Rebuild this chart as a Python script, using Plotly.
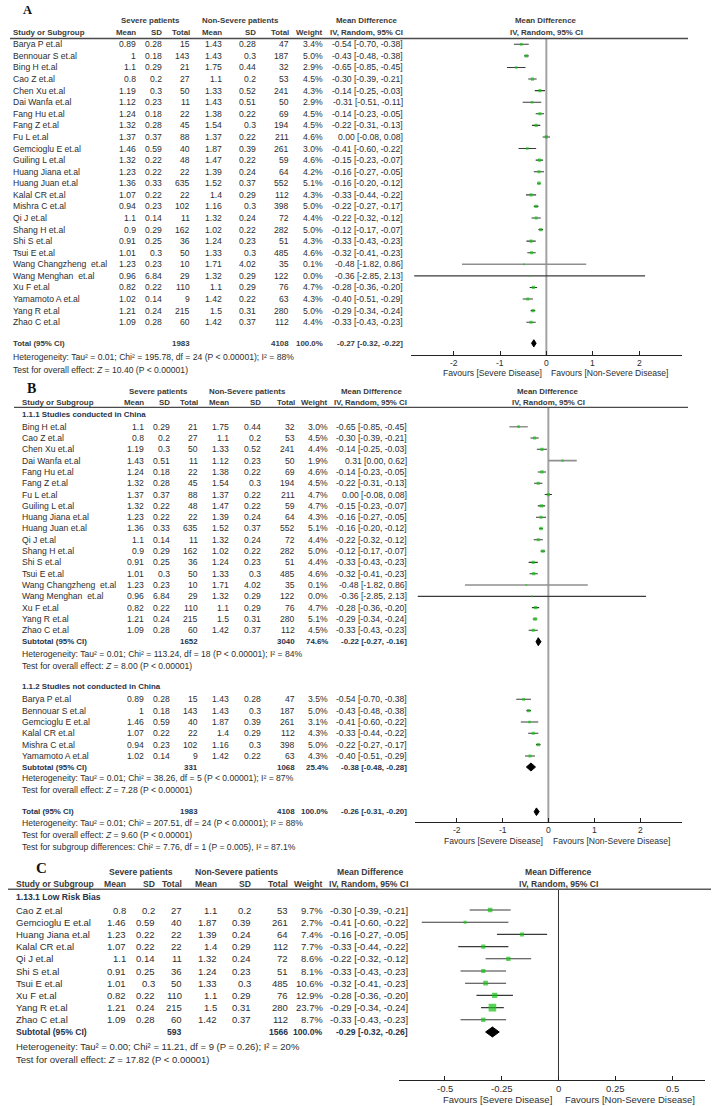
import plotly.graph_objects as go

W, H = 713, 1106

# ---------------- Panel A data ----------------
studies_A = ["Barya P et.al", "Bennouar S et.al", "Bing H et.al", "Cao Z et.al", "Chen Xu et.al",
             "Dai Wanfa et.al", "Fang Hu et.al", "Fang Z et.al", "Fu L et.al", "Gemcioglu E et.al",
             "Guiling L et.al", "Huang Jiana et.al", "Huang Juan et.al", "Kalal CR et.al", "Mishra C et.al",
             "Qi J et.al", "Shang H et.al", "Shi S et.al", "Tsui E et.al", "Wang Changzheng  et.al",
             "Wang Menghan  et.al", "Xu F et.al", "Yamamoto A et.al", "Yang R et.al", "Zhao C et.al"]
sev_mean_A = [0.89, 1, 1.1, 0.8, 1.19, 1.12, 1.24, 1.32, 1.37, 1.46, 1.32, 1.23, 1.36, 1.07, 0.94,
              1.1, 0.9, 0.91, 1.01, 1.23, 0.96, 0.82, 1.02, 1.21, 1.09]
sev_sd_A = [0.28, 0.18, 0.29, 0.2, 0.3, 0.23, 0.18, 0.28, 0.37, 0.59, 0.22, 0.22, 0.33, 0.22, 0.23,
            0.14, 0.29, 0.25, 0.3, 0.23, 6.84, 0.22, 0.14, 0.24, 0.28]
sev_n_A = [15, 143, 21, 27, 50, 11, 22, 45, 88, 40, 48, 22, 635, 22, 102, 11, 162, 36, 50, 10, 29, 110, 9, 215, 60]
non_mean_A = [1.43, 1.43, 1.75, 1.1, 1.33, 1.43, 1.38, 1.54, 1.37, 1.87, 1.47, 1.39, 1.52, 1.4, 1.16,
              1.32, 1.02, 1.24, 1.33, 1.71, 1.32, 1.1, 1.42, 1.5, 1.42]
non_sd_A = [0.28, 0.3, 0.44, 0.2, 0.52, 0.51, 0.22, 0.3, 0.22, 0.39, 0.22, 0.24, 0.37, 0.29, 0.3,
            0.24, 0.22, 0.23, 0.3, 4.02, 0.29, 0.29, 0.22, 0.31, 0.37]
non_n_A = [47, 187, 32, 53, 241, 50, 69, 194, 211, 261, 59, 64, 552, 112, 398, 72, 282, 51, 485, 35, 122, 76, 63, 280, 112]
weight_A = [3.4, 5.0, 2.9, 4.5, 4.3, 2.9, 4.5, 4.5, 4.6, 3.0, 4.6, 4.2, 5.1, 4.3, 5.0, 4.4, 5.0, 4.3, 4.6,
            0.1, 0.0, 4.7, 4.3, 5.0, 4.4]
md_A = [-0.54, -0.43, -0.65, -0.30, -0.14, -0.31, -0.14, -0.22, 0.00, -0.41, -0.15, -0.16, -0.16, -0.33, -0.22,
        -0.22, -0.12, -0.33, -0.32, -0.48, -0.36, -0.28, -0.40, -0.29, -0.33]
lo_A = [-0.70, -0.48, -0.85, -0.39, -0.25, -0.51, -0.23, -0.31, -0.08, -0.60, -0.23, -0.27, -0.20, -0.44, -0.27,
        -0.32, -0.17, -0.43, -0.41, -1.82, -2.85, -0.36, -0.51, -0.34, -0.43]
hi_A = [-0.38, -0.38, -0.45, -0.21, -0.03, -0.11, -0.05, -0.13, 0.08, -0.22, -0.07, -0.05, -0.12, -0.22, -0.17,
        -0.12, -0.07, -0.23, -0.23, 0.86, 2.13, -0.20, -0.29, -0.24, -0.23]
total_A = dict(sev_n=1983, non_n=4108, weight=100.0, md=-0.27, lo=-0.32, hi=-0.22)
het_A = "Heterogeneity: Tau² = 0.01; Chi² = 195.78, df = 24 (P < 0.00001); I² = 88%"
test_A = "Test for overall effect: <i>Z</i> = 10.40 (P < 0.00001)"

# ---------------- Panel B data: 1.1.1 China ----------------
studies_B1 = ["Bing H et.al", "Cao Z et.al", "Chen Xu et.al", "Dai Wanfa et.al", "Fang Hu et.al", "Fang Z et.al",
              "Fu L et.al", "Guiling L et.al", "Huang Jiana et.al", "Huang Juan et.al", "Qi J et.al", "Shang H et.al",
              "Shi S et.al", "Tsui E et.al", "Wang Changzheng  et.al", "Wang Menghan  et.al", "Xu F et.al",
              "Yang R et.al", "Zhao C et.al"]
sev_mean_B1 = [1.1, 0.8, 1.19, 1.43, 1.24, 1.32, 1.37, 1.32, 1.23, 1.36, 1.1, 0.9, 0.91, 1.01, 1.23, 0.96, 0.82, 1.21, 1.09]
sev_sd_B1 = [0.29, 0.2, 0.3, 0.51, 0.18, 0.28, 0.37, 0.22, 0.22, 0.33, 0.14, 0.29, 0.25, 0.3, 0.23, 6.84, 0.22, 0.24, 0.28]
sev_n_B1 = [21, 27, 50, 11, 22, 45, 88, 48, 22, 635, 11, 162, 36, 50, 10, 29, 110, 215, 60]
non_mean_B1 = [1.75, 1.1, 1.33, 1.12, 1.38, 1.54, 1.37, 1.47, 1.39, 1.52, 1.32, 1.02, 1.24, 1.33, 1.71, 1.32, 1.1, 1.5, 1.42]
non_sd_B1 = [0.44, 0.2, 0.52, 0.23, 0.22, 0.3, 0.22, 0.22, 0.24, 0.37, 0.24, 0.22, 0.23, 0.3, 4.02, 0.29, 0.29, 0.31, 0.37]
non_n_B1 = [32, 53, 241, 50, 69, 194, 211, 59, 64, 552, 72, 282, 51, 485, 35, 122, 76, 280, 112]
weight_B1 = [3.0, 4.5, 4.4, 1.9, 4.6, 4.5, 4.7, 4.7, 4.3, 5.1, 4.4, 5.0, 4.4, 4.6, 0.1, 0.0, 4.7, 5.1, 4.5]
md_B1 = [-0.65, -0.30, -0.14, 0.31, -0.14, -0.22, 0.00, -0.15, -0.16, -0.16, -0.22, -0.12, -0.33, -0.32, -0.48, -0.36, -0.28, -0.29, -0.33]
lo_B1 = [-0.85, -0.39, -0.25, 0.00, -0.23, -0.31, -0.08, -0.23, -0.27, -0.20, -0.32, -0.17, -0.43, -0.41, -1.82, -2.85, -0.36, -0.34, -0.43]
hi_B1 = [-0.45, -0.21, -0.03, 0.62, -0.05, -0.13, 0.08, -0.07, -0.05, -0.12, -0.12, -0.07, -0.23, -0.23, 0.86, 2.13, -0.20, -0.24, -0.23]
sub_B1 = dict(sev_n=1652, non_n=3040, weight=74.6, md=-0.22, lo=-0.27, hi=-0.16)
het_B1 = "Heterogeneity: Tau² = 0.01; Chi² = 113.24, df = 18 (P < 0.00001); I² = 84%"
test_B1 = "Test for overall effect: <i>Z</i> = 8.00 (P < 0.00001)"

# ---------------- Panel B data: 1.1.2 not China ----------------
studies_B2 = ["Barya P et.al", "Bennouar S et.al", "Gemcioglu E et.al", "Kalal CR et.al", "Mishra C et.al", "Yamamoto A et.al"]
sev_mean_B2 = [0.89, 1, 1.46, 1.07, 0.94, 1.02]
sev_sd_B2 = [0.28, 0.18, 0.59, 0.22, 0.23, 0.14]
sev_n_B2 = [15, 143, 40, 22, 102, 9]
non_mean_B2 = [1.43, 1.43, 1.87, 1.4, 1.16, 1.42]
non_sd_B2 = [0.28, 0.3, 0.39, 0.29, 0.3, 0.22]
non_n_B2 = [47, 187, 261, 112, 398, 63]
weight_B2 = [3.5, 5.0, 3.1, 4.3, 5.0, 4.3]
md_B2 = [-0.54, -0.43, -0.41, -0.33, -0.22, -0.40]
lo_B2 = [-0.70, -0.48, -0.60, -0.44, -0.27, -0.51]
hi_B2 = [-0.38, -0.38, -0.22, -0.22, -0.17, -0.29]
sub_B2 = dict(sev_n=331, non_n=1068, weight=25.4, md=-0.38, lo=-0.48, hi=-0.28)
het_B2 = "Heterogeneity: Tau² = 0.01; Chi² = 38.26, df = 5 (P < 0.00001); I² = 87%"
test_B2 = "Test for overall effect: <i>Z</i> = 7.28 (P < 0.00001)"
total_B = dict(sev_n=1983, non_n=4108, weight=100.0, md=-0.26, lo=-0.31, hi=-0.20)
het_B = "Heterogeneity: Tau² = 0.01; Chi² = 207.51, df = 24 (P < 0.00001); I² = 88%"
test_B = "Test for overall effect: <i>Z</i> = 9.60 (P < 0.00001)"
sub_test_B = "Test for subgroup differences: Chi² = 7.76, df = 1 (P = 0.005), I² = 87.1%"

# ---------------- Panel C data: 1.13.1 Low Risk Bias ----------------
studies_C = ["Cao Z et.al", "Gemcioglu E et.al", "Huang Jiana et.al", "Kalal CR et.al", "Qi J et.al",
             "Shi S et.al", "Tsui E et.al", "Xu F et.al", "Yang R et.al", "Zhao C et.al"]
sev_mean_C = [0.8, 1.46, 1.23, 1.07, 1.1, 0.91, 1.01, 0.82, 1.21, 1.09]
sev_sd_C = [0.2, 0.59, 0.22, 0.22, 0.14, 0.25, 0.3, 0.22, 0.24, 0.28]
sev_n_C = [27, 40, 22, 22, 11, 36, 50, 110, 215, 60]
non_mean_C = [1.1, 1.87, 1.39, 1.4, 1.32, 1.24, 1.33, 1.1, 1.5, 1.42]
non_sd_C = [0.2, 0.39, 0.24, 0.29, 0.24, 0.23, 0.3, 0.29, 0.31, 0.37]
non_n_C = [53, 261, 64, 112, 72, 51, 485, 76, 280, 112]
weight_C = [9.7, 2.7, 7.4, 7.7, 8.6, 8.1, 10.6, 12.9, 23.7, 8.7]
md_C = [-0.30, -0.41, -0.16, -0.33, -0.22, -0.33, -0.32, -0.28, -0.29, -0.33]
lo_C = [-0.39, -0.60, -0.27, -0.44, -0.32, -0.43, -0.41, -0.36, -0.34, -0.43]
hi_C = [-0.21, -0.22, -0.05, -0.22, -0.12, -0.23, -0.23, -0.20, -0.24, -0.23]
sub_C = dict(sev_n=593, non_n=1566, weight=100.0, md=-0.29, lo=-0.32, hi=-0.26)
het_C = "Heterogeneity: Tau² = 0.00; Chi² = 11.21, df = 9 (P = 0.26); I² = 20%"
test_C = "Test for overall effect: <i>Z</i> = 17.82 (P < 0.00001)"

ticks_AB = [-2, -1, 0, 1, 2]
ticks_C = [-0.5, -0.25, 0, 0.25, 0.5]

# ---------------- helpers ----------------
FONT = "Liberation Sans"
TXT = "#2e2e2e"
HDR = "#3a3a3a"
NAVY = "#27324a"
GREEN = "#14c314"

annotations = []
shapes = []
fig = go.Figure()


def px(x):
    return x / W


def py(y):
    return 1 - y / H


def T(x, y, s, anchor="left", size=8.6, bold=False, color=TXT, family=FONT):
    annotations.append(dict(x=px(x), y=py(y), xref="paper", yref="paper",
                            text=f"<b>{s}</b>" if bold else s, showarrow=False,
                            xanchor=anchor, yanchor="middle", borderpad=0,
                            font=dict(size=size, color=color, family=family)))


def g(v):
    return f"{v:g}"


def mdtxt(m, l, h):
    return f"{m:.2f} [{l:.2f}, {h:.2f}]"


def hline(x0, x1, y, color="#4a4a4a", width=1.3):
    shapes.append(dict(type="line", xref="paper", yref="paper", x0=px(x0), x1=px(x1),
                       y0=py(y), y1=py(y), line=dict(color=color, width=width)))


def header(cfg, y1, y2, size):
    c = cfg["cols"]
    T(cfg["sev_c"], y1, "Severe patients", "center", size, True, HDR)
    T(cfg["non_c"], y1, "Non-Severe patients", "center", size, True, HDR)
    T(cfg["mdh_c"], y1, "Mean Difference", "center", size, True, HDR)
    T(cfg["plot_c"], y1, "Mean Difference", "center", size, True, HDR)
    T(cfg["name_x"], y2, "Study or Subgroup", "left", size, True, HDR)
    for x, s in zip(c, ["Mean", "SD", "Total", "Mean", "SD", "Total", "Weight", "IV, Random, 95% CI"]):
        T(x, y2, s, "right", size, True, HDR)
    T(cfg["plot_c"], y2, "IV, Random, 95% CI", "center", size, True, HDR)


def rows(cfg, ys, names, a, b, c_, d, e, f, w, m, l, h, size):
    c = cfg["cols"]
    for i, y in enumerate(ys):
        T(cfg["name_x"], y, names[i], "left", size)
        vals = [g(a[i]), g(b[i]), str(c_[i]), g(d[i]), g(e[i]), str(f[i]), f"{w[i]:.1f}%", mdtxt(m[i], l[i], h[i])]
        for x, s in zip(c, vals):
            T(x, y, s, "right", size)


def total_row(cfg, y, label, tot, size, color):
    c = cfg["cols"]
    T(cfg["name_x"], y, label, "left", size, True, color)
    T(c[2], y, str(tot["sev_n"]), "right", size, True, color)
    T(c[5], y, str(tot["non_n"]), "right", size, True, color)
    T(c[6], y, f"{tot['weight']:.1f}%", "right", size, True, color)
    T(c[7], y, mdtxt(tot["md"], tot["lo"], tot["hi"]), "right", size, True, color)


def forest(xa, ya, ys, m, l, h, w, light, k, b):
    xs, yl, xg, yg = [], [], [], []
    for i, y in enumerate(ys):
        if i in light:
            xg += [l[i], h[i], None]
            yg += [y, y, None]
        else:
            xs += [l[i], h[i], None]
            yl += [y, y, None]
    fig.add_trace(go.Scatter(x=xs, y=yl, mode="lines", line=dict(color="#3a3a3a", width=1.1),
                             xaxis=xa, yaxis=ya, hoverinfo="skip", showlegend=False))
    if xg:
        fig.add_trace(go.Scatter(x=xg, y=yg, mode="lines", line=dict(color="#8f8f8f", width=1.6),
                                 xaxis=xa, yaxis=ya, hoverinfo="skip", showlegend=False))
    fig.add_trace(go.Scatter(x=m, y=ys, mode="markers",
                             marker=dict(symbol="square", size=[b + k * v for v in w], color=GREEN, line=dict(width=0)),
                             xaxis=xa, yaxis=ya, hoverinfo="skip", showlegend=False))


def diamond(xa, ya, y, tot, hh):
    fig.add_trace(go.Scatter(x=[tot["lo"], tot["md"], tot["hi"], tot["md"], tot["lo"]],
                             y=[y, y - hh, y, y + hh, y], mode="lines", fill="toself",
                             fillcolor="black", line=dict(color="black", width=1),
                             xaxis=xa, yaxis=ya, hoverinfo="skip", showlegend=False))


def tick_labels(xref, ticks, y, size):
    for t in ticks:
        annotations.append(dict(x=t, y=py(y), xref=xref, yref="paper", text=g(t), showarrow=False,
                                xanchor="center", yanchor="middle", borderpad=0,
                                font=dict(size=size, color=TXT, family=FONT)))


# ---------------- Panel A layout ----------------
cfgA = dict(name_x=12, cols=[136.5, 163.3, 191, 222.7, 256.7, 290, 324, 404],
            sev_c=150.7, non_c=240.5, mdh_c=367, plot_c=546)
SA = 8.6
HA = 7.9
T(27.7, 10, "A", "center", 12.5, True, "#111", "Liberation Serif")
header(cfgA, 21, 32.3, HA)
hline(10, 688, 38.5)
ysA = [44.3 + i * 11.58 for i in range(len(studies_A))]
rows(cfgA, ysA, studies_A, sev_mean_A, sev_sd_A, sev_n_A, non_mean_A, non_sd_A, non_n_A,
     weight_A, md_A, lo_A, hi_A, SA)
yTotA = 343.3
total_row(cfgA, yTotA, "Total (95% CI)", total_A, HA, HDR)
T(12, 356.7, het_A, "left", SA)
T(12, 370, test_A, "left", SA)
forest("x", "y", ysA, md_A, lo_A, hi_A, weight_A, [19], 0.35, 1.6)
diamond("x", "y", yTotA, total_A, 3.6)
tick_labels("x", ticks_AB, 362.5, SA)
T(542.5, 372.7, "Favours [Severe Disease]", "right", SA)
T(549.5, 372.7, "Favours [Non-Severe Disease]", "left", SA)
shapes.append(dict(type="line", xref="x", yref="y", x0=0, x1=0, y0=38.5, y1=355,
                   line=dict(color="#a3a3a3", width=2), layer="below"))

# ---------------- Panel B layout ----------------
cfgB = dict(name_x=21.3, cols=[144.7, 171, 199, 230, 261.7, 296, 329.3, 408],
            sev_c=158.5, non_c=247, mdh_c=372, plot_c=548)
SB = 8.6
HB = 7.9
T(31.5, 389, "B", "center", 14, True, "#111", "Liberation Serif")
header(cfgB, 391, 402.3, HB)
hline(14, 688, 407.3)
T(21.3, 414, "1.1.1 Studies conducted in China", "left", HB, True, NAVY)
ysB1 = [426.7 + i * 11.31 for i in range(len(studies_B1))]
rows(cfgB, ysB1, studies_B1, sev_mean_B1, sev_sd_B1, sev_n_B1, non_mean_B1, non_sd_B1, non_n_B1,
     weight_B1, md_B1, lo_B1, hi_B1, SB)
ySubB1 = 641.7
total_row(cfgB, ySubB1, "Subtotal (95% CI)", sub_B1, HB, NAVY)
T(21.3, 654, het_B1, "left", SB)
T(21.3, 665.5, test_B1, "left", SB)
T(21.3, 686, "1.1.2 Studies not conducted in China", "left", HB, True, NAVY)
ysB2 = [699.3 + i * 11.34 for i in range(len(studies_B2))]
rows(cfgB, ysB2, studies_B2, sev_mean_B2, sev_sd_B2, sev_n_B2, non_mean_B2, non_sd_B2, non_n_B2,
     weight_B2, md_B2, lo_B2, hi_B2, SB)
ySubB2 = 767
total_row(cfgB, ySubB2, "Subtotal (95% CI)", sub_B2, HB, NAVY)
T(21.3, 778.5, het_B2, "left", SB)
T(21.3, 790, test_B2, "left", SB)
yTotB = 811.7
total_row(cfgB, yTotB, "Total (95% CI)", total_B, HB, NAVY)
T(21.3, 823.3, het_B, "left", SB)
T(21.3, 835, test_B, "left", SB)
T(21.3, 846.7, sub_test_B, "left", SB)
forest("x2", "y2", ysB1, md_B1, lo_B1, hi_B1, weight_B1, [0, 3, 14], 0.35, 1.6)
forest("x2", "y2", ysB2, md_B2, lo_B2, hi_B2, weight_B2, [], 0.35, 1.6)
diamond("x2", "y2", ySubB1, sub_B1, 4)
diamond("x2", "y2", ySubB2, sub_B2, 4)
diamond("x2", "y2", yTotB, total_B, 3.8)
tick_labels("x2", ticks_AB, 830, SB)
T(543.5, 841, "Favours [Severe Disease]", "right", SB)
T(551.5, 841, "Favours [Non-Severe Disease]", "left", SB)
shapes.append(dict(type="line", xref="x2", yref="y2", x0=0, x1=0, y0=407.3, y1=822.3,
                   line=dict(color="#a3a3a3", width=2), layer="below"))

# ---------------- Panel C layout ----------------
cfgC = dict(name_x=15, cols=[127, 156, 183.3, 218.3, 252.3, 288.7, 324, 409],
            sev_c=141.3, non_c=236, mdh_c=371, plot_c=558.5)
SC = 9.5
HC = 8.6
T(41.3, 868.3, "C", "center", 15, True, "#111", "Liberation Serif")
header(cfgC, 871.7, 884, HC)
hline(8, 711, 889.3, "#5a5a5a", 1.5)
T(15, 896.7, "1.13.1 Low Risk Bias", "left", HC, True, NAVY)
ysC = [910 + i * 12.2 for i in range(len(studies_C))]
rows(cfgC, ysC, studies_C, sev_mean_C, sev_sd_C, sev_n_C, non_mean_C, non_sd_C, non_n_C,
     weight_C, md_C, lo_C, hi_C, SC)
ySubC = 1032
total_row(cfgC, ySubC, "Subtotal (95% CI)", sub_C, HC, NAVY)
T(15, 1046, het_C, "left", SC)
T(15, 1059, test_C, "left", SC)
forest("x3", "y3", ysC, md_C, lo_C, hi_C, weight_C, [], 0.22, 2.4)
diamond("x3", "y3", ySubC, sub_C, 5)
tick_labels("x3", ticks_C, 1088.5, SC)
T(553, 1099.5, "Favours [Severe Disease]", "right", SC)
T(564, 1099.5, "Favours [Non-Severe Disease]", "left", SC)
shapes.append(dict(type="line", xref="x3", yref="y3", x0=0, x1=0, y0=889.3, y1=1080,
                   line=dict(color="#333333", width=1), layer="below"))


def xax(d0, d1, rng, ticks, anchor):
    return dict(domain=[px(d0), px(d1)], range=rng, anchor=anchor, tickvals=ticks,
                showticklabels=False, showline=True, linecolor="#222", linewidth=1,
                ticks="inside", ticklen=4, tickcolor="#222", tickwidth=1,
                showgrid=False, zeroline=False, fixedrange=True)


def yax(top, bottom, anchor):
    return dict(domain=[py(bottom), py(top)], range=[bottom, top], anchor=anchor, visible=False,
                fixedrange=True)


fig.update_layout(
    width=W, height=H, autosize=False, margin=dict(l=0, r=0, t=0, b=0),
    paper_bgcolor="white", plot_bgcolor="rgba(0,0,0,0)", showlegend=False,
    xaxis=xax(411, 681.7, [-2.92, 2.92], ticks_AB, "y"),
    yaxis=yax(38.5, 355, "x"),
    xaxis2=xax(415, 681.7, [-2.91, 2.91], ticks_AB, "y2"),
    yaxis2=yax(407.3, 822.3, "x2"),
    xaxis3=xax(399, 705, [-0.70, 0.643], ticks_C, "y3"),
    yaxis3=yax(889.3, 1080, "x3"),
    annotations=annotations, shapes=shapes,
)

fig.write_html("out.html", config={"displayModeBar": False, "staticPlot": True},
               post_script="document.body.style.margin='0';document.body.style.overflow='hidden';")
